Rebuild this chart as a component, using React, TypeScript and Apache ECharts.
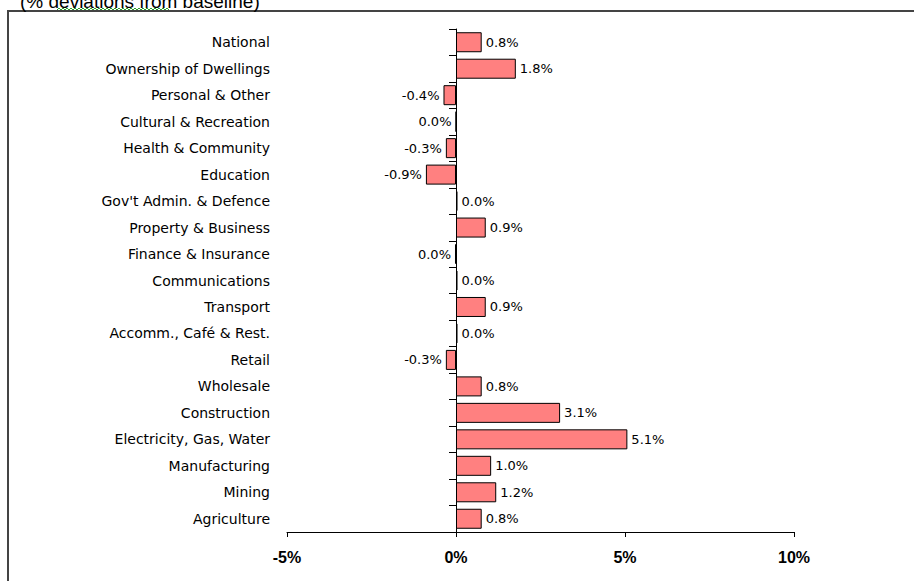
import React, { useEffect, useRef } from "react";
import * as echarts from "echarts";

const categories: string[] = [
  "National",
  "Ownership of Dwellings",
  "Personal & Other",
  "Cultural & Recreation",
  "Health & Community",
  "Education",
  "Gov't Admin. & Defence",
  "Property & Business",
  "Finance & Insurance",
  "Communications",
  "Transport",
  "Accomm., Café & Rest.",
  "Retail",
  "Wholesale",
  "Construction",
  "Electricity, Gas, Water",
  "Manufacturing",
  "Mining",
  "Agriculture",
];

const deviations: number[] = [
  0.76, 1.77, -0.37, -0.001, -0.3, -0.89, 0.045, 0.88, -0.03, 0.045, 0.88,
  0.045, -0.3, 0.76, 3.08, 5.07, 1.04, 1.19, 0.76,
];

const xTicks = { min: -5, max: 10, interval: 5 };
const title = "(% deviations from baseline)";

const LABEL_FONT = "'DejaVu Sans', Verdana, sans-serif";

export default function App() {
  const ref = useRef<HTMLDivElement>(null);
  useEffect(() => {
    if (!ref.current) return;
    const chart = echarts.init(ref.current, undefined, { renderer: "svg" });

    const fmt = (v: number) =>
      (Math.abs(v) < 0.05 ? "0.0" : v.toFixed(1)) + "%";

    const data = deviations.map((v) => ({
      value: v,
      label: { position: v < 0 ? "left" : "right" },
    }));

    // spell-check squiggle under "deviations"
    const squiggle: number[][] = [];
    for (let i = 0; i <= 56; i++) {
      squiggle.push([57 + i * 2, i % 2 === 0 ? 10 : 8]);
    }

    chart.setOption({
      animation: false,
      backgroundColor: "#ffffff",
      grid: {
        left: 287,
        right: 120,
        top: 29,
        bottom: 49,
        containLabel: false,
        outerBoundsMode: "none",
      },
      xAxis: {
        type: "value",
        min: xTicks.min,
        max: xTicks.max,
        interval: xTicks.interval,
        position: "bottom",
        axisLine: { show: true, lineStyle: { color: "#000", width: 1 } },
        axisTick: { show: true, length: 5, lineStyle: { color: "#000" } },
        splitLine: { show: false },
        axisLabel: {
          formatter: "{value}%",
          color: "#000",
          fontSize: 16,
          fontWeight: "bold",
          fontFamily: "'Liberation Sans', Arial, sans-serif",
          margin: 17,
        },
      },
      yAxis: {
        type: "category",
        data: categories,
        inverse: true,
        axisLine: {
          show: true,
          onZero: true,
          lineStyle: { color: "#000", width: 1 },
        },
        axisTick: { show: true, length: 7, lineStyle: { color: "#000" } },
        axisLabel: {
          color: "#000",
          fontSize: 14,
          fontFamily: LABEL_FONT,
          margin: 17,
        },
        splitLine: { show: false },
      },
      graphic: [
        {
          type: "rect",
          shape: { x: 8, y: 11, width: 930, height: 620 },
          style: { fill: "none", stroke: "#444", lineWidth: 2 },
          silent: true,
        },
        {
          type: "text",
          x: 20,
          y: 1.5,
          style: {
            text: title,
            fill: "#000",
            font: "19px 'Liberation Sans', Arial, sans-serif",
            textVerticalAlign: "middle",
            verticalAlign: "middle",
          },
          silent: true,
        },
        {
          type: "polyline",
          shape: { points: squiggle },
          style: { stroke: "#2ca02c", lineWidth: 1, fill: "none" },
          silent: true,
        },
      ],
      series: [
        {
          type: "bar",
          data,
          barWidth: 20,
          itemStyle: { color: "#FF8080", borderColor: "#000", borderWidth: 1 },
          label: {
            show: true,
            distance: 4,
            color: "#000",
            fontSize: 13,
            fontFamily: LABEL_FONT,
            formatter: (p: any) => fmt(p.value),
          },
        },
      ],
    });
    return () => chart.dispose();
  }, []);
  return (
    <div
      ref={ref}
      style={{ position: "fixed", left: 0, top: 0, width: 914, height: 581 }}
    />
  );
}
